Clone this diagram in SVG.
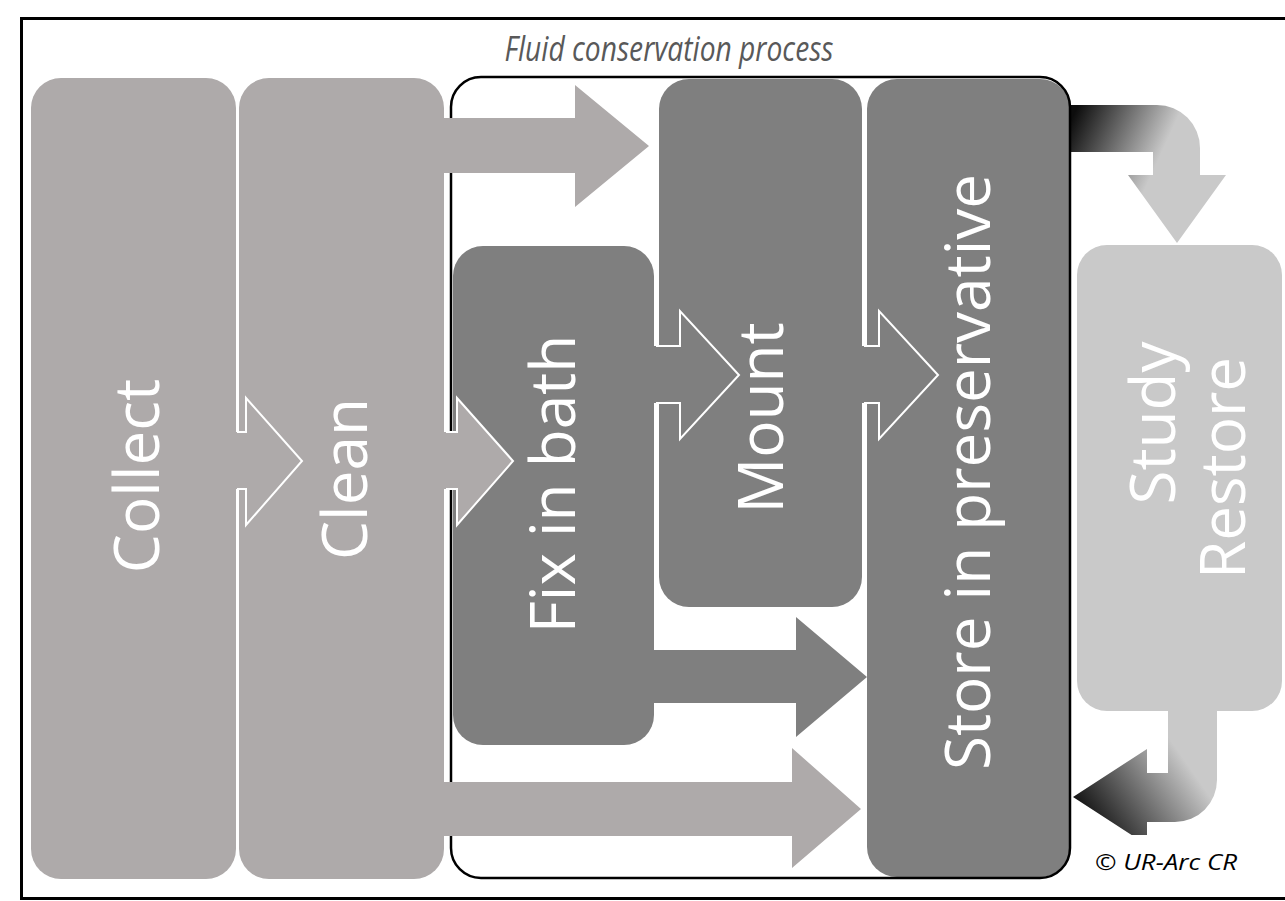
<svg xmlns="http://www.w3.org/2000/svg" width="1285" height="901" viewBox="0 0 1285 901">
<style>
.light{fill:#aeaaaa}
.dark{fill:#7f7f7f}
.pale{fill:#c9c9c9}
.lbl{font-family:"Open Sans","Liberation Sans",sans-serif;font-size:62px;fill:#ffffff;text-anchor:middle}
.outl{fill:none;stroke:#ffffff;stroke-width:2;stroke-linejoin:miter}
</style>
<defs>
<linearGradient id="g1" gradientUnits="userSpaceOnUse" x1="1075" y1="112" x2="1162" y2="152">
<stop offset="0" stop-color="#0d0d0d"/><stop offset="1" stop-color="#c9c9c9"/>
</linearGradient>
<linearGradient id="g2" gradientUnits="userSpaceOnUse" x1="1092" y1="832" x2="1188" y2="765">
<stop offset="0" stop-color="#0d0d0d"/><stop offset="1" stop-color="#c9c9c9"/>
</linearGradient>
<clipPath id="clipB"><rect x="1000" y="690" width="285" height="145"/></clipPath>
</defs>
<rect x="21.5" y="18.5" width="1280" height="880" fill="none" stroke="#000" stroke-width="3"/>
<text x="669" y="61" font-family="'Open Sans','Liberation Sans',sans-serif" font-style="italic" font-size="34" fill="#595959" text-anchor="middle" textLength="329" lengthAdjust="spacingAndGlyphs">Fluid conservation process</text>
<g id="collect"><rect class="light" x="31" y="78" width="205" height="801" rx="30"/><text class="lbl" transform="translate(159,476) rotate(-90)">Collect</text></g>
<g id="clean"><rect class="light" x="239" y="78" width="205" height="801" rx="30"/><text class="lbl" transform="translate(367,479) rotate(-90)">Clean</text></g>
<g id="fix"><rect class="dark" x="453" y="246" width="201" height="499" rx="30"/><text class="lbl" transform="translate(575,484) rotate(-90)">Fix in bath</text></g>
<g id="mount"><rect class="dark" x="659" y="79" width="203" height="528" rx="30"/><text class="lbl" transform="translate(783,418) rotate(-90)">Mount</text></g>
<g id="store"><rect class="dark" x="867" y="79" width="203" height="798" rx="30"/><text class="lbl" transform="translate(990,472) rotate(-90)">Store in preservative</text></g>
<g id="connectors">
<path d="M1070,105 H1157 A43,43 0 0 1 1200,148 V175 H1226 L1177,243 L1128,175 H1153 V152 H1070 Z" fill="url(#g1)"/>
<path clip-path="url(#clipB)" d="M1168,700 V773 H1147 V749 L1073,797 L1147,845 V822 H1175 A42,42 0 0 0 1217,780 V700 Z" fill="url(#g2)"/>
</g>
<g id="process"><rect x="451" y="77" width="619" height="801" rx="30" fill="none" stroke="#000" stroke-width="2.5"/></g>
<g id="study"><rect class="pale" x="1077" y="245" width="205" height="466" rx="30"/>
<text class="lbl" transform="translate(1175,423) rotate(-90)">Study</text>
<text class="lbl" transform="translate(1245,468) rotate(-90)">Restore</text></g>
<g id="arrows">
<polygon class="light" points="444,118 575,118 575,85 649,146 575,207 575,173 444,173"/>
<polygon class="dark" points="650,650 796,650 796,617 867,677 796,737 796,703 650,703"/>
<polygon class="light" points="440,782 792,782 792,748 861,809 792,868 792,836 440,836"/>
<polygon class="light" points="230,432 246,432 246,398 302,461 246,525 246,489 230,489"/>
<polyline class="outl" points="237,432 246,432 246,398 302,461 246,525 246,489 237,489"/>
<polygon class="light" points="440,432 457,432 457,398 513,461 457,525 457,489 440,489"/>
<polyline class="outl" points="446,432 457,432 457,398 513,461 457,525 457,489 446,489"/>
<polygon class="dark" points="650,346 680,346 680,311 739,375 680,439 680,403 650,403"/>
<polyline class="outl" points="656,346 680,346 680,311 739,375 680,439 680,403 656,403"/>
<polygon class="dark" points="858,346 879,346 879,311 938,375 879,439 879,403 858,403"/>
<polyline class="outl" points="864,346 879,346 879,311 938,375 879,439 879,403 864,403"/>
</g>
<text x="1095" y="870" font-family="'Open Sans','Liberation Sans',sans-serif" font-style="italic" font-size="22" fill="#000" textLength="142" lengthAdjust="spacingAndGlyphs">© UR-Arc CR</text>
</svg>
